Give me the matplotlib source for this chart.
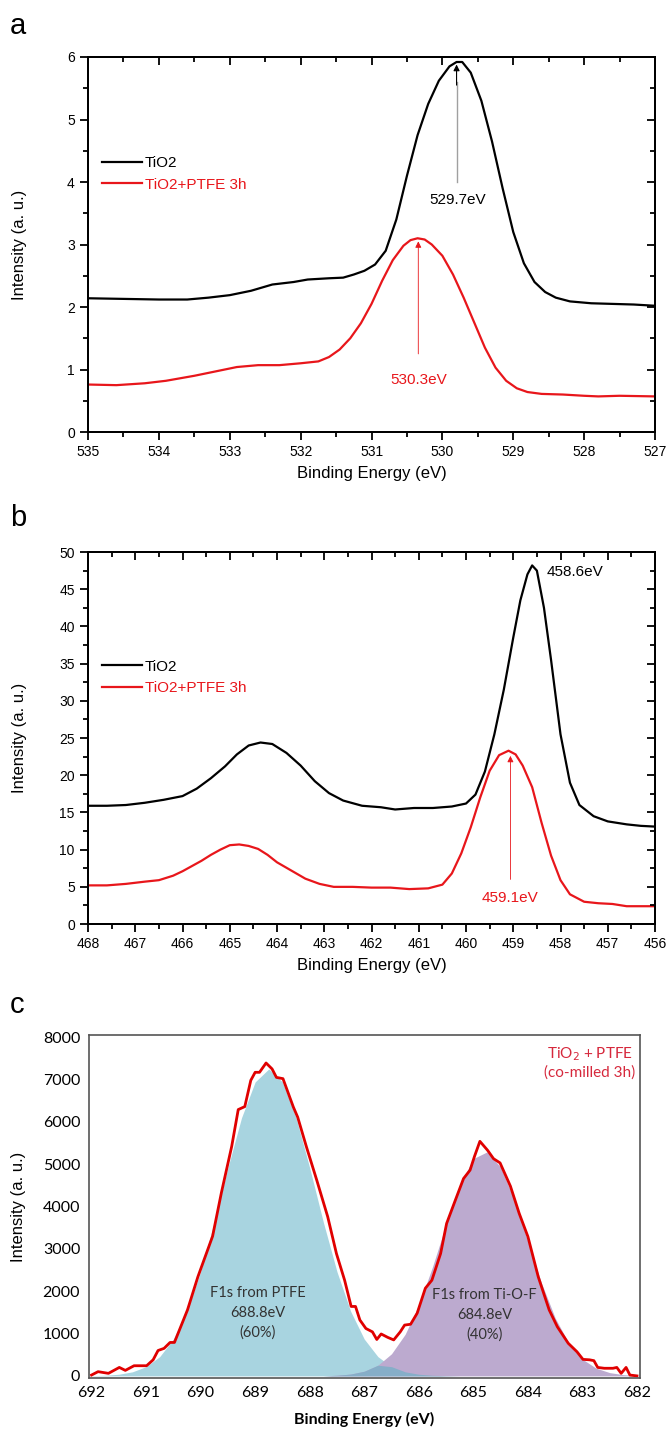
import matplotlib
matplotlib.use('Agg')
import matplotlib.pyplot as plt
import numpy as np
from matplotlib.ticker import MultipleLocator

plt.rcParams['font.family'] = ['Liberation Sans', 'DejaVu Sans']

# ---- panel a : O1s ----
a_be = [535.0, 534.5, 534.0, 533.6, 533.3, 533.0, 532.7, 532.4, 532.1, 531.9, 531.6, 531.4,
        531.25, 531.1, 530.95, 530.8, 530.65, 530.5, 530.35, 530.2, 530.05, 529.9, 529.8,
        529.72, 529.6, 529.45, 529.3, 529.15, 529.0, 528.85, 528.7, 528.55, 528.4, 528.2,
        527.9, 527.6, 527.3, 527.0]
a_tio2 = [2.14, 2.13, 2.12, 2.12, 2.15, 2.19, 2.26, 2.36, 2.40, 2.44, 2.46, 2.47,
          2.52, 2.58, 2.68, 2.90, 3.40, 4.10, 4.75, 5.25, 5.62, 5.85, 5.92,
          5.92, 5.75, 5.30, 4.65, 3.90, 3.20, 2.70, 2.40, 2.24, 2.15, 2.09,
          2.06, 2.05, 2.04, 2.02]
a_ptfe_be = [535.0, 534.6, 534.2, 533.9, 533.5, 533.2, 532.9, 532.6, 532.3, 532.0, 531.75,
             531.6, 531.45, 531.3, 531.15, 531.0, 530.85, 530.7, 530.55, 530.45, 530.35,
             530.25, 530.15, 530.0, 529.85, 529.7, 529.55, 529.4, 529.25, 529.1, 528.95,
             528.8, 528.6, 528.3, 528.0, 527.8, 527.5, 527.0]
a_ptfe = [0.76, 0.75, 0.78, 0.82, 0.90, 0.97, 1.04, 1.07, 1.07, 1.10, 1.13,
          1.20, 1.32, 1.50, 1.74, 2.05, 2.42, 2.75, 2.98, 3.07, 3.10,
          3.08, 3.00, 2.82, 2.52, 2.15, 1.75, 1.35, 1.03, 0.82, 0.70,
          0.64, 0.61, 0.60, 0.58, 0.57, 0.58, 0.57]

# ---- panel b : Ti2p ----
b_be = [468.0, 467.6, 467.2, 466.8, 466.4, 466.0, 465.7, 465.4, 465.1, 464.85, 464.6, 464.35,
        464.1, 463.8, 463.5, 463.2, 462.9, 462.6, 462.2, 461.8, 461.5, 461.1, 460.7, 460.3,
        460.0, 459.8, 459.6, 459.4, 459.2, 459.0, 458.85, 458.7, 458.6, 458.5, 458.35,
        458.2, 458.0, 457.8, 457.6, 457.3, 457.0, 456.6, 456.3, 456.0]
b_tio2 = [15.9, 15.9, 16.0, 16.3, 16.7, 17.2, 18.2, 19.6, 21.2, 22.8, 24.0, 24.4,
          24.2, 23.0, 21.3, 19.2, 17.6, 16.6, 15.9, 15.7, 15.4, 15.6, 15.6, 15.8,
          16.2, 17.4, 20.5, 25.5, 31.5, 38.5, 43.5, 47.0, 48.2, 47.5, 42.5,
          35.5, 25.5, 19.0, 16.0, 14.5, 13.8, 13.4, 13.2, 13.1]
b_ptfe_be = [468.0, 467.6, 467.2, 466.8, 466.5, 466.2, 466.0, 465.8, 465.6, 465.4, 465.2,
             465.0, 464.8, 464.6, 464.4, 464.2, 464.0, 463.7, 463.4, 463.1, 462.8, 462.4,
             462.0, 461.6, 461.2, 460.8, 460.5, 460.3, 460.1, 459.9, 459.7, 459.5, 459.3,
             459.1, 458.95, 458.8, 458.6, 458.4, 458.2, 458.0, 457.8, 457.5, 457.2, 456.9,
             456.6, 456.3, 456.0]
b_ptfe = [5.2, 5.2, 5.4, 5.7, 5.9, 6.5, 7.1, 7.8, 8.5, 9.3, 10.0,
          10.6, 10.7, 10.5, 10.1, 9.3, 8.3, 7.2, 6.1, 5.4, 5.0, 5.0,
          4.9, 4.9, 4.7, 4.8, 5.3, 6.8, 9.5, 13.0, 17.0, 20.6, 22.7,
          23.3, 22.8, 21.3, 18.4, 13.6, 9.2, 5.9, 4.0, 3.0, 2.8, 2.7,
          2.4, 2.4, 2.4]

# ---- panel c : F1s ----
c_be = [692.0, 691.88, 691.69, 691.49, 691.38, 691.22, 690.99, 690.87, 690.78, 690.67,
        690.56, 690.48, 690.24, 690.05, 689.85, 689.78, 689.62, 689.43, 689.31, 689.19,
        689.08, 689.0, 688.92, 688.8, 688.69, 688.61, 688.49, 688.3, 688.22, 688.06,
        687.87, 687.67, 687.51, 687.36, 687.24, 687.16, 687.08, 686.97, 686.85, 686.77,
        686.69, 686.57, 686.46, 686.34, 686.26, 686.15, 686.03, 685.88, 685.76, 685.6,
        685.49, 685.33, 685.18, 685.06, 684.98, 684.88, 684.74, 684.63, 684.51, 684.32,
        684.16, 684.0, 683.81, 683.61, 683.46, 683.26, 683.1, 682.99, 682.87, 682.79,
        682.72, 682.6, 682.44, 682.37, 682.29, 682.2, 682.13, 682.0]
c_meas = [20, 100, 60, 200, 130, 240, 240, 380, 600, 650,
          790, 790, 1560, 2340, 3050, 3300, 4320, 5420, 6290, 6360,
          6980, 7170, 7170, 7390, 7250, 7050, 7020, 6350, 6110, 5410,
          4620, 3760, 2890, 2260, 1640, 1640, 1320, 1120, 1040, 860,
          990, 910, 850, 1040, 1200, 1220, 1480, 2070, 2260, 2890,
          3600, 4150, 4660, 4860, 5180, 5540, 5330, 5130, 5030, 4480,
          3840, 3290, 2340, 1560, 1160, 770, 570, 390, 380, 360,
          200, 180, 180, 200, 60, 200, 20, 0]
fit_be = [692.0, 691.75, 691.5, 691.25, 691.0, 690.75, 690.5, 690.25, 690.0, 689.75,
          689.5, 689.25, 689.0, 688.75, 688.5, 688.25, 688.0, 687.75, 687.5, 687.25,
          687.0, 686.75, 686.5, 686.25, 686.0, 685.75, 685.5, 685.25, 685.0, 684.75,
          684.5, 684.25, 684.0, 683.75, 683.5, 683.25, 683.0, 682.75, 682.5, 682.25, 682.0]
fit_ptfe = [5, 14, 39, 96, 218, 455, 870, 1528, 2460, 3630,
            4913, 6097, 6943, 7250, 6943, 6097, 4913, 3630, 2460, 1528,
            870, 455, 218, 96, 39, 14, 5, 0, 0, 0,
            0, 0, 0, 0, 0, 0, 0, 0, 0, 0, 0]
fit_tiof = [0, 0, 0, 0, 0, 0, 0, 0, 0, 0,
            0, 0, 0, 0, 0, 0, 0, 0, 15, 43,
            110, 252, 523, 983, 1672, 2573, 3578, 4506, 5133, 5290,
            4931, 4160, 3173, 2191, 1368, 773, 395, 183, 77, 29, 10]

RED = '#e8161b'

fig = plt.figure(figsize=(6.67, 14.32), dpi=100)


def origin_style(ax, xmaj, ymaj):
    ax.xaxis.set_major_locator(MultipleLocator(xmaj))
    ax.xaxis.set_minor_locator(MultipleLocator(xmaj / 2))
    ax.yaxis.set_major_locator(MultipleLocator(ymaj))
    ax.yaxis.set_minor_locator(MultipleLocator(ymaj / 2))
    ax.tick_params(which='both', direction='out', top=False, right=False, labelsize=10,
                   width=1.3)
    ax.tick_params(which='major', length=6)
    ax.tick_params(which='minor', length=3.5)
    # mirrored ticks pointing inwards (top and right)
    tx = ax.twiny()
    tx.set_xlim(ax.get_xlim())
    tx.xaxis.set_major_locator(MultipleLocator(xmaj))
    tx.xaxis.set_minor_locator(MultipleLocator(xmaj / 2))
    tx.tick_params(which='both', direction='in', labeltop=False, width=1.3)
    tx.tick_params(which='major', length=5.5)
    tx.tick_params(which='minor', length=3.5)
    ty = ax.twinx()
    ty.set_ylim(ax.get_ylim())
    ty.yaxis.set_major_locator(MultipleLocator(ymaj))
    ty.yaxis.set_minor_locator(MultipleLocator(ymaj / 2))
    ty.tick_params(which='both', direction='in', labelright=False, width=1.3)
    ty.tick_params(which='major', length=5.5)
    ty.tick_params(which='minor', length=3.5)
    for a in (ax, tx, ty):
        for s in a.spines.values():
            s.set_linewidth(1.4)
    ax.set_xlabel('Binding Energy (eV)', fontsize=12, labelpad=5)
    ax.set_ylabel('Intensity (a. u.)', fontsize=12)
    ax.yaxis.set_label_coords(-0.108, 0.5)


# panel a
ax1 = fig.add_axes([0.132, 0.6983, 0.850, 0.2619])
ax1.plot(a_be, a_tio2, color='black', lw=1.6, label='TiO2')
ax1.plot(a_ptfe_be, a_ptfe, color=RED, lw=1.6, label='TiO2+PTFE 3h')
ax1.set_xlim(535, 527)
ax1.set_ylim(0, 6)
ax1.plot([529.8, 529.8], [4.0, 5.6], color='#a0a0a0', lw=1)
ax1.annotate('', xy=(529.8, 5.88), xytext=(529.8, 5.55),
             arrowprops=dict(arrowstyle='-|>', color='black', lw=0.8, mutation_scale=9,
                             shrinkA=0, shrinkB=0))
ax1.text(529.78, 3.72, '529.7eV', ha='center', va='center', fontsize=11)
ax1.annotate('', xy=(530.34, 3.05), xytext=(530.34, 1.25),
             arrowprops=dict(arrowstyle='-|>', color=RED, lw=0.6, mutation_scale=9,
                             shrinkA=0, shrinkB=0))
ax1.text(530.34, 0.83, '530.3eV', ha='center', va='center', fontsize=11, color=RED)
ax1.legend(loc='upper left', bbox_to_anchor=(0.0, 0.773), frameon=False, fontsize=11,
           handlelength=2.6, handletextpad=0.2, labelspacing=0.5, labelcolor='linecolor')
origin_style(ax1, 1, 1)
fig.text(0.015, 0.982, 'a', fontsize=21, va='center')

# panel b
ax2 = fig.add_axes([0.132, 0.3547, 0.850, 0.2598])
ax2.plot(b_be, b_tio2, color='black', lw=1.6, label='TiO2')
ax2.plot(b_ptfe_be, b_ptfe, color=RED, lw=1.6, label='TiO2+PTFE 3h')
ax2.set_xlim(468, 456)
ax2.set_ylim(0, 50)
ax2.annotate('', xy=(459.06, 22.6), xytext=(459.06, 6.0),
             arrowprops=dict(arrowstyle='-|>', color=RED, lw=0.6, mutation_scale=9,
                             shrinkA=0, shrinkB=0))
ax2.text(459.06, 3.5, '459.1eV', ha='center', va='center', fontsize=11, color=RED)
ax2.text(458.3, 47.3, '458.6eV', ha='left', va='center', fontsize=11)
ax2.legend(loc='upper left', bbox_to_anchor=(0.0, 0.748), frameon=False, fontsize=11,
           handlelength=2.6, handletextpad=0.2, labelspacing=0.5, labelcolor='linecolor')
origin_style(ax2, 1, 5)
fig.text(0.015, 0.638, 'b', fontsize=21, va='center')

# panel c
ax3 = fig.add_axes([0.1327, 0.0377, 0.8268, 0.2395])
ax3.fill_between(fit_be, 0, fit_ptfe, color='#a8d4e0', lw=0)
ax3.fill_between(fit_be, 0, fit_tiof, color='#bcaacf', lw=0)
ax3.fill_between(fit_be, 0, np.minimum(fit_ptfe, fit_tiof), color='#86aec8', lw=0)
ax3.plot(c_be, c_meas, color='#e00000', lw=2.0)
ax3.set_xlim(692.055, 681.945)
ax3.set_ylim(-50, 8050)
ax3.xaxis.set_major_locator(MultipleLocator(1))
ax3.yaxis.set_major_locator(MultipleLocator(1000))
ax3.tick_params(length=0, labelsize=11.5, pad=6)
for lab in ax3.get_xticklabels() + ax3.get_yticklabels():
    lab.set_family(['Lato', 'DejaVu Sans'])
for s in ax3.spines.values():
    s.set_color('#555555')
    s.set_linewidth(1.2)
ax3.set_xlabel('Binding Energy (eV)', fontsize=11.5, family=['Lato', 'DejaVu Sans'],
               fontweight='bold', labelpad=8)
ax3.set_ylabel('Intensity (a. u.)', fontsize=12)
ax3.yaxis.set_label_coords(-0.113, 0.5)
ax3.text(688.95, 1480, 'F1s from PTFE\n688.8eV\n(60%)', ha='center', va='center',
         fontsize=10.5, color='#333333', family=['Lato', 'DejaVu Sans'], linespacing=1.5)
ax3.text(684.79, 1440, 'F1s from Ti-O-F\n684.8eV\n(40%)', ha='center', va='center',
         fontsize=10.5, color='#333333', family=['Lato', 'DejaVu Sans'], linespacing=1.5)
ax3.text(682.86, 7400, 'TiO$_2$ + PTFE\n(co-milled 3h)', ha='center', va='center',
         fontsize=11, color='#d6283c', family=['Lato', 'DejaVu Sans'], linespacing=1.25)
fig.text(0.015, 0.298, 'c', fontsize=21, va='center')

fig.savefig('out.png', dpi=100)
